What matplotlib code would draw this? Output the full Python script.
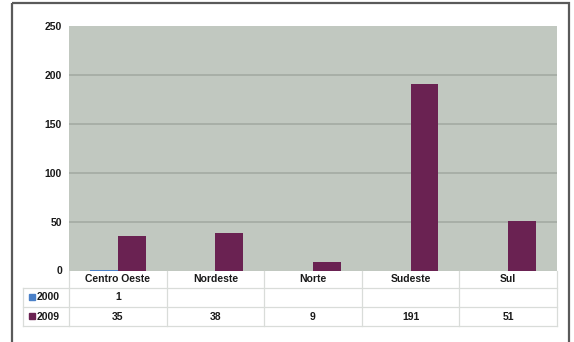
import numpy as np
import matplotlib
matplotlib.use("Agg")
import matplotlib.pyplot as plt
from matplotlib.patches import Rectangle

plt.rcParams['font.family'] = ['Liberation Sans', 'DejaVu Sans']

regions = ["Centro Oeste", "Nordeste", "Norte", "Sudeste", "Sul"]
years = ["2000", "2009"]
values_2000 = [1, None, None, None, None]
values_2009 = [35, 38, 9, 191, 51]
y_ticks = [0, 50, 100, 150, 200, 250]

colors = {"2000": "#4a80c8", "2009": "#6a2252"}
bg_color = "#c1c8c0"
grid_color = "#a3aba2"
line_color = "#d9dcd9"
text_color = "#1a1a1a"
font_kw = dict(fontsize=7.5, fontweight="bold", color=text_color)

W, H = 574, 342
fig = plt.figure(figsize=(W / 100, H / 100), dpi=100)
fig.patch.set_facecolor("white")

# frame around the whole chart
frame = fig.add_axes([0, 0, 1, 1])
frame.set_xlim(0, W)
frame.set_ylim(H, 0)
frame.axis("off")
frame.add_patch(Rectangle((12, 3), 557, H + 10, fill=False, edgecolor="#5a5a5a", lw=1.6))

# plot area in pixels
px_left, px_right, px_top, px_bottom = 69, 557, 26, 270.5
ax = fig.add_axes([px_left / W, 1 - px_bottom / H,
                   (px_right - px_left) / W, (px_bottom - px_top) / H])
ax.set_facecolor(bg_color)
x = np.arange(len(regions))
bw = 0.285

v2000 = np.array([np.nan if v is None else v for v in values_2000], dtype=float)
v2009 = np.array(values_2009, dtype=float)
ax.bar(x - bw / 2, v2000, bw, color=colors["2000"], zorder=3)
ax.bar(x + bw / 2, v2009, bw, color=colors["2009"], zorder=3)

ax.set_xlim(-0.5, len(regions) - 0.5)
ax.set_ylim(0, 250)
ax.set_yticks(y_ticks)
ax.set_yticklabels([str(t) for t in y_ticks], **font_kw)
ax.set_xticks([])
ax.tick_params(axis="y", length=0, pad=5)
for t in y_ticks[1:-1]:
    ax.axhline(t, color=grid_color, lw=1.2, zorder=1)
for side in ax.spines.values():
    side.set_visible(False)

# data table under the plot, sharing the x scale of the bars
unit_px = (px_right - px_left) / len(regions)
tbl_left_px, tbl_top_px, tbl_bottom_px = 23, 270.5, 326
row_edges_px = [270.5, 288, 307, 326]
tb = fig.add_axes([tbl_left_px / W, 1 - tbl_bottom_px / H,
                   (px_right - tbl_left_px) / W, (tbl_bottom_px - tbl_top_px) / H])
x0 = -0.5 - (px_left - tbl_left_px) / unit_px
tb.set_xlim(x0, len(regions) - 0.5)
tb.set_ylim(tbl_bottom_px, tbl_top_px)
tb.axis("off")

col_edges = np.arange(len(regions) + 1) - 0.5
for e in col_edges:
    tb.plot([e, e], [row_edges_px[0], row_edges_px[-1]], color=line_color, lw=0.9, clip_on=False)
for r in row_edges_px[1:]:
    tb.plot([x0, col_edges[-1]], [r, r], color=line_color, lw=0.9, clip_on=False)
tb.plot([x0, x0], [row_edges_px[1], row_edges_px[-1]], color=line_color, lw=0.9, clip_on=False)

header_y = (row_edges_px[0] + row_edges_px[1]) / 2
for xi, name in zip(x, regions):
    tb.text(xi, header_y, name, ha="center", va="center", **font_kw)

for row, (year, vals) in enumerate(zip(years, [values_2000, values_2009])):
    yc = (row_edges_px[row + 1] + row_edges_px[row + 2]) / 2
    tb.add_patch(Rectangle((x0 + 6 / unit_px, yc - 3.5), 6 / unit_px, 6,
                           color=colors[year], clip_on=False))
    tb.text(x0 + 14 / unit_px, yc, year, ha="left", va="center", **font_kw)
    for xi, v in zip(x, vals):
        if v is not None:
            tb.text(xi, yc, str(v), ha="center", va="center", **font_kw)

fig.savefig("out.png", dpi=100, facecolor="white")
